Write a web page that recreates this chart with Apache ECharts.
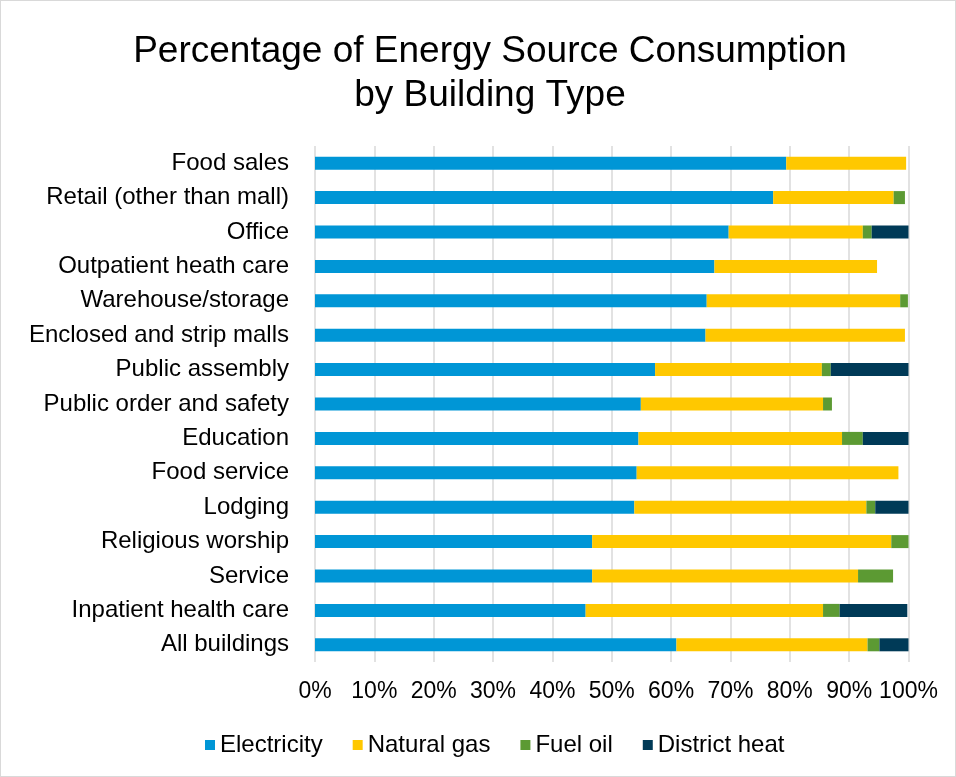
<!DOCTYPE html>
<html>
<head>
<meta charset="utf-8">
<script src="https://cdn.jsdelivr.net/npm/echarts@6/dist/echarts.min.js"></script>
<style>
  html, body { margin: 0; padding: 0; background: #fff; }
  #chart { width: 956px; height: 777px; box-sizing: border-box; border: 1px solid #d9d9d9; }
</style>
</head>
<body>
<div id="chart"></div>
<script>
// Building types, bottom to top as drawn on the category axis
const categories = [
  'All buildings', 'Inpatient health care', 'Service', 'Religious worship', 'Lodging',
  'Food service', 'Education', 'Public order and safety', 'Public assembly',
  'Enclosed and strip malls', 'Warehouse/storage', 'Outpatient heath care',
  'Office', 'Retail (other than mall)', 'Food sales'
];

// Share of consumption (%) per energy source, same order as categories
const electricity = [60.9, 45.6, 46.7, 46.7, 53.8, 54.2, 54.5, 54.9, 57.3, 65.8, 66.0, 67.3, 69.7, 77.2, 79.4];
const naturalGas  = [32.2, 40.0, 44.8, 50.4, 39.1, 44.1, 34.3, 30.7, 28.1, 33.6, 32.6, 27.4, 22.6, 20.3, 20.2];
const fuelOil     = [2.0, 2.8, 5.9, 2.9, 1.5, 0, 3.5, 1.5, 1.5, 0, 1.3, 0, 1.5, 1.9, 0];
const districtHeat = [4.9, 11.4, 0, 0, 5.6, 0, 7.7, 0, 13.1, 0, 0, 0, 6.2, 0, 0];

const seriesNames = ['Electricity', 'Natural gas', 'Fuel oil', 'District heat'];
const seriesColors = ['#0096D6', '#FFC800', '#5C9A33', '#003A57'];
const seriesData = [electricity, naturalGas, fuelOil, districtHeat];

const chart = echarts.init(document.getElementById('chart'));
const font = '"Liberation Sans", Arial, sans-serif';

chart.setOption({
  animation: false,
  textStyle: { fontFamily: font },
  title: {
    text: 'Percentage of Energy Source Consumption\nby Building Type',
    left: 484,
    textAlign: 'center',
    top: 24,
    textStyle: { fontFamily: font, fontSize: 37, fontWeight: 'normal', color: '#000', lineHeight: 44 }
  },
  legend: {
    data: seriesNames,
    left: 199,
    top: 727,
    itemWidth: 10,
    itemHeight: 10,
    itemGap: 30,
    icon: 'rect',
    textStyle: { fontFamily: font, fontSize: 24, color: '#000' }
  },
  grid: { left: 314, right: 46.5, top: 145, bottom: 114, containLabel: false },
  xAxis: {
    type: 'value',
    min: 0,
    max: 100,
    interval: 10,
    axisLine: { show: false },
    axisTick: { show: false },
    axisLabel: {
      formatter: '{value}%',
      fontFamily: font,
      fontSize: 23,
      color: '#000',
      margin: 18
    },
    splitLine: { show: true, lineStyle: { color: '#d9d9d9', width: 1.5 } }
  },
  yAxis: {
    type: 'category',
    data: categories,
    axisLine: { show: false },
    axisTick: { show: false },
    axisLabel: {
      fontFamily: font,
      fontSize: 24,
      color: '#000',
      margin: 26
    }
  },
  series: seriesNames.map((name, i) => ({
    name: name,
    type: 'bar',
    stack: 'total',
    barWidth: 13,
    itemStyle: { color: seriesColors[i] },
    data: seriesData[i]
  }))
});
</script>
</body>
</html>
